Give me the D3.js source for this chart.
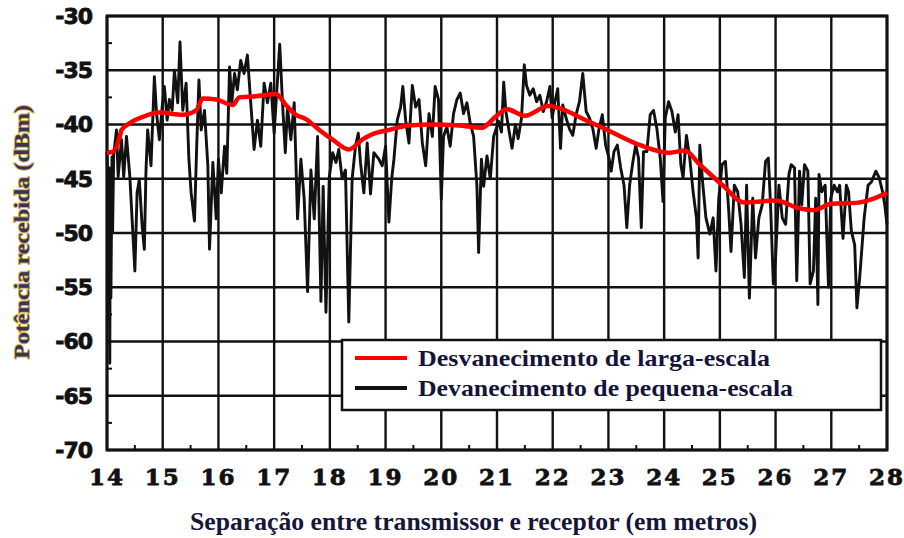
<!DOCTYPE html>
<html>
<head>
<meta charset="utf-8">
<script src="https://d3js.org/d3.v7.min.js"></script>
<style>
	body { margin: 0; background: #ffffff; }
	svg { display: block; }
</style>
</head>
<body>
<script>

// tick values for the axes
var xTicks = [14, 15, 16, 17, 18, 19, 20, 21, 22, 23, 24, 25, 26, 27, 28];
var yTicks = [-30, -35, -40, -45, -50, -55, -60, -65, -70];

// legend names
var seriesNames = ["Desvanecimento de larga-escala", "Devanecimento de pequena-escala"];

// large-scale fading (red), [metros, dBm]
var largaEscala = [
	[14.0, -42.6], [14.11, -42.5], [14.23, -41.1], [14.26, -40.5], [14.4, -39.9], [14.64, -39.3],
	[14.94, -38.9], [15.36, -39.1], [15.6, -38.7], [15.72, -37.6], [15.96, -37.7], [16.26, -38.2],
	[16.37, -37.5], [16.67, -37.4], [17.03, -37.2], [17.21, -38.2], [17.39, -39.1], [17.57, -39.5],
	[17.81, -40.5], [18.05, -41.4], [18.34, -42.3], [18.58, -41.4], [18.76, -40.9], [19.06, -40.5],
	[19.42, -40.1], [19.84, -40.0], [20.31, -40.1], [20.73, -40.3], [20.97, -39.3], [21.18, -38.6],
	[21.5, -39.2], [21.92, -38.3], [22.27, -38.8], [22.51, -39.4], [22.98, -40.5], [23.57, -41.9],
	[24.1, -42.6], [24.37, -42.4], [24.64, -43.7], [25.05, -45.6], [25.44, -47.2], [26.0, -47.0],
	[26.41, -47.7], [26.68, -47.9], [27.0, -47.3], [27.48, -47.2], [27.72, -46.9], [28.0, -46.3]
];

// small-scale fading (black), [metros, dBm]
var pequenaEscala = [
	[14.0, -42.5], [14.02, -47], [14.03, -58], [14.04, -44], [14.05, -62], [14.06, -45], [14.07, -56],
	[14.09, -43], [14.1, -50], [14.12, -42.8], [14.17, -40.5], [14.2, -44.8], [14.26, -41.4], [14.3, -44.8],
	[14.35, -41.1], [14.41, -44.8], [14.5, -53.5], [14.54, -46.3], [14.58, -45.1], [14.63, -49.3],
	[14.67, -51.5], [14.7, -44.2], [14.73, -40.5], [14.79, -43.8], [14.85, -35.6], [14.89, -39],
	[14.94, -41.4], [14.99, -38.4], [15.03, -36.5], [15.08, -39.6], [15.12, -37.7], [15.17, -38.7],
	[15.21, -35], [15.27, -38], [15.31, -32.4], [15.36, -38.7], [15.42, -36.2], [15.47, -43.2],
	[15.51, -46.3], [15.57, -48.9], [15.61, -42], [15.65, -35.9], [15.69, -40.5], [15.75, -38.7],
	[15.81, -43.8], [15.84, -51.5], [15.9, -43.5], [15.96, -48.7], [16.0, -43.2], [16.05, -46.3],
	[16.11, -42], [16.15, -44.5], [16.2, -34.7], [16.24, -38], [16.29, -35.3], [16.34, -36.8],
	[16.4, -34.1], [16.46, -35.3], [16.52, -33.6], [16.58, -38], [16.64, -42.3], [16.7, -39.6],
	[16.76, -42], [16.82, -36.2], [16.88, -38], [16.94, -36.2], [17.0, -40.8], [17.06, -35.9],
	[17.1, -32.6], [17.15, -38], [17.2, -42.6], [17.24, -38.4], [17.3, -41.4], [17.36, -38],
	[17.42, -48.7], [17.48, -43.2], [17.54, -46.9], [17.6, -55.4], [17.66, -44.2], [17.72, -48.7],
	[17.78, -41.1], [17.84, -56.3], [17.88, -45.7], [17.93, -57.3], [17.99, -44.8], [18.05, -42.6],
	[18.11, -43.5], [18.16, -42.3], [18.22, -45], [18.28, -44.2], [18.34, -58.2], [18.4, -45],
	[18.46, -42], [18.51, -40.8], [18.55, -43.5], [18.61, -46.3], [18.67, -41.7], [18.73, -46.4],
	[18.79, -42.6], [18.88, -43.2], [18.94, -43.8], [19.0, -42], [19.06, -49], [19.11, -45],
	[19.15, -43.2], [19.21, -39.6], [19.27, -38.4], [19.31, -36.5], [19.36, -39.6], [19.42, -41.7],
	[19.48, -36.4], [19.54, -38.4], [19.6, -37.7], [19.66, -41.7], [19.72, -43.8], [19.78, -39],
	[19.84, -41.1], [19.89, -36.5], [19.95, -37.7], [20.0, -46.9], [20.04, -41.1], [20.1, -40.2],
	[20.16, -42], [20.22, -39], [20.28, -37.7], [20.34, -37.1], [20.4, -39], [20.46, -38],
	[20.52, -39.9], [20.58, -41.1], [20.64, -45.7], [20.67, -51.8], [20.72, -43.2], [20.76, -45.7],
	[20.82, -42.9], [20.88, -45], [20.94, -41.1], [21.03, -39.7], [21.08, -40.7], [21.12, -36.1],
	[21.16, -38.8], [21.21, -40.4], [21.27, -42.2], [21.33, -40], [21.38, -41.3], [21.44, -39.4],
	[21.49, -34.5], [21.53, -36.4], [21.59, -37.3], [21.65, -36.7], [21.71, -37.9], [21.77, -37.3],
	[21.83, -38.8], [21.89, -37.9], [21.95, -36.5], [21.99, -39.4], [22.04, -37.9], [22.09, -36.7],
	[22.14, -42.2], [22.18, -38.2], [22.24, -39.4], [22.3, -40.4], [22.36, -41], [22.42, -39.1],
	[22.48, -37.9], [22.54, -35.3], [22.6, -38.8], [22.66, -39.4], [22.72, -40.4], [22.78, -42.2],
	[22.83, -40.4], [22.89, -39.1], [22.95, -41.9], [23.01, -43.1], [23.05, -44.3], [23.1, -42.5],
	[23.16, -41.9], [23.22, -44], [23.28, -45.6], [23.33, -49.5], [23.38, -45.6], [23.44, -43.4],
	[23.49, -41.9], [23.54, -43.1], [23.59, -49.5], [23.63, -42.5], [23.69, -42.5], [23.75, -39.1],
	[23.81, -38.7], [23.87, -40.4], [23.93, -43.1], [23.98, -47.1], [24.02, -39.4], [24.08, -37.9],
	[24.14, -38.8], [24.2, -40.7], [24.25, -39.1], [24.3, -43.7], [24.34, -44.9], [24.4, -41],
	[24.46, -43.1], [24.52, -46.2], [24.58, -48.6], [24.61, -52.3], [24.64, -41.9], [24.69, -45.3],
	[24.75, -48.6], [24.82, -50.1], [24.88, -48.6], [24.93, -53.5], [24.98, -46.8], [25.04, -43.7],
	[25.1, -43.4], [25.16, -48], [25.2, -51.7], [25.26, -45.6], [25.32, -46.2], [25.38, -49.2],
	[25.44, -54.1], [25.48, -45.6], [25.53, -56], [25.59, -46.8], [25.64, -52.3], [25.7, -48.6],
	[25.76, -47.4], [25.82, -43.4], [25.87, -43.1], [25.91, -47.4], [25.96, -54.7], [26.0, -52.3],
	[26.06, -45.6], [26.12, -48.6], [26.18, -49.2], [26.24, -44.6], [26.28, -43.7], [26.34, -44],
	[26.38, -54.4], [26.43, -44.3], [26.47, -47.4], [26.52, -43.7], [26.58, -44.3], [26.62, -54.7],
	[26.68, -53.5], [26.72, -46.8], [26.76, -56.6], [26.78, -44.6], [26.83, -46.2], [26.89, -45.6],
	[26.95, -55], [26.99, -46.8], [27.05, -45.6], [27.11, -46.2], [27.15, -45.6], [27.21, -50.5],
	[27.27, -45.6], [27.31, -46.2], [27.36, -49.8], [27.42, -51.1], [27.46, -56.9], [27.51, -54.1],
	[27.59, -48.6], [27.66, -45.6], [27.72, -45.3], [27.8, -44.3], [27.86, -44.9], [27.92, -46.2],
	[27.96, -47.4], [28.0, -49.2]
];

// size of the svg and of the plot box
var w = 904;
var h = 538;
var plotLeft = 107;
var plotRight = 887;
var plotTop = 16;
var plotBottom = 450;

var svg = d3.select("body")
			.append("svg")
			.attr("width", w)
			.attr("height", h);

// scales
var scaleX = d3.scaleLinear()
				.domain([14, 28])
				.range([plotLeft, plotRight]);
var scaleY = d3.scaleLinear()
				.domain([-70, -30])
				.range([plotBottom, plotTop]);

// grid lines
svg.append("g")
	.selectAll("line")
	.data(xTicks)
	.enter()
	.append("line")
	.attr("x1", function(d){ return scaleX(d); })
	.attr("x2", function(d){ return scaleX(d); })
	.attr("y1", plotTop)
	.attr("y2", plotBottom)
	.attr("stroke", "#111")
	.attr("stroke-width", 2.4);
svg.append("g")
	.selectAll("line")
	.data(yTicks)
	.enter()
	.append("line")
	.attr("x1", plotLeft)
	.attr("x2", plotRight)
	.attr("y1", function(d){ return scaleY(d); })
	.attr("y2", function(d){ return scaleY(d); })
	.attr("stroke", "#111")
	.attr("stroke-width", 2.4);

// small inner ticks halfway between grid lines
svg.append("g")
	.selectAll("line")
	.data(d3.range(14.5, 28, 1))
	.enter()
	.append("line")
	.attr("x1", function(d){ return scaleX(d); })
	.attr("x2", function(d){ return scaleX(d); })
	.attr("y1", plotBottom)
	.attr("y2", plotBottom - 5)
	.attr("stroke", "#111")
	.attr("stroke-width", 2);
svg.append("g")
	.selectAll("line")
	.data(d3.range(-67.5, -30, 5))
	.enter()
	.append("line")
	.attr("x1", plotLeft)
	.attr("x2", plotLeft + 5)
	.attr("y1", function(d){ return scaleY(d); })
	.attr("y2", function(d){ return scaleY(d); })
	.attr("stroke", "#111")
	.attr("stroke-width", 2);

// plot border
svg.append("rect")
	.attr("x", plotLeft)
	.attr("y", plotTop)
	.attr("width", plotRight - plotLeft)
	.attr("height", plotBottom - plotTop)
	.attr("fill", "none")
	.attr("stroke", "#111")
	.attr("stroke-width", 3);

// line generator
var line = d3.line()
			.x(function(d){ return scaleX(d[0]); })
			.y(function(d){ return scaleY(d[1]); });

// small-scale fading
svg.append("path")
	.datum(pequenaEscala)
	.attr("d", line)
	.attr("fill", "none")
	.attr("stroke", "#111")
	.attr("stroke-width", 2.9)
	.attr("stroke-linejoin", "round");

// large-scale fading
svg.append("path")
	.datum(largaEscala)
	.attr("d", line.curve(d3.curveMonotoneX))
	.attr("fill", "none")
	.attr("stroke", "#ff0000")
	.attr("stroke-width", 4.5)
	.attr("stroke-linejoin", "round");

// y tick labels
svg.append("g")
	.selectAll("text")
	.data(yTicks)
	.enter()
	.append("text")
	.attr("x", 92)
	.attr("y", function(d){ return scaleY(d); })
	.attr("dy", "0.36em")
	.attr("text-anchor", "end")
	.style("font-family", "'DejaVu Sans', sans-serif")
	.style("font-weight", "bold")
	.style("font-size", "22px")
	.style("letter-spacing", "-1px")
	.style("paint-order", "stroke")
	.attr("stroke", "#111")
	.attr("stroke-width", 0.8)
	.attr("fill", "#111")
	.text(function(d){ return d; });

// x tick labels
svg.append("g")
	.selectAll("text")
	.data(xTicks)
	.enter()
	.append("text")
	.attr("x", function(d){ return scaleX(d); })
	.attr("y", 477)
	.attr("dy", "0.36em")
	.attr("text-anchor", "middle")
	.style("font-family", "'DejaVu Serif', serif")
	.style("font-weight", "bold")
	.style("font-size", "23px")
	.style("letter-spacing", "2px")
	.attr("stroke", "#111")
	.attr("stroke-width", 0.8)
	.attr("fill", "#111")
	.text(function(d){ return d; });

// x axis title
svg.append("text")
	.attr("x", 190)
	.attr("y", 530)
	.attr("textLength", 567)
	.attr("lengthAdjust", "spacingAndGlyphs")
	.style("font-family", "'Liberation Serif', serif")
	.style("font-weight", "bold")
	.style("font-size", "25px")
	.attr("fill", "#16163a")
	.text("Separação entre transmissor e receptor (em metros)");

// y axis title
svg.append("text")
	.attr("transform", "translate(29, 232) rotate(-90)")
	.attr("text-anchor", "middle")
	.attr("textLength", 254)
	.attr("lengthAdjust", "spacingAndGlyphs")
	.style("font-family", "'Liberation Serif', serif")
	.style("font-weight", "bold")
	.style("font-size", "21px")
	.style("paint-order", "stroke")
	.attr("stroke", "#d4b45a")
	.attr("stroke-width", 1.8)
	.attr("fill", "#3a3452")
	.text("Potência recebida (dBm)");

// legend box
var legend = svg.append("g");
legend.append("rect")
	.attr("x", 342)
	.attr("y", 340)
	.attr("width", 539)
	.attr("height", 70)
	.attr("fill", "#ffffff")
	.attr("stroke", "#111")
	.attr("stroke-width", 2.5);

var legendColors = ["#ff0000", "#111"];
var legendWidths = [352, 375];
legend.selectAll(".entry")
	.data(seriesNames)
	.enter()
	.append("line")
	.attr("x1", 355)
	.attr("x2", 407)
	.attr("y1", function(d, i){ return 358 + i * 30; })
	.attr("y2", function(d, i){ return 358 + i * 30; })
	.attr("stroke", function(d, i){ return legendColors[i]; })
	.attr("stroke-width", 4);
legend.selectAll("text")
	.data(seriesNames)
	.enter()
	.append("text")
	.attr("x", 418)
	.attr("y", function(d, i){ return 366 + i * 30; })
	.attr("textLength", function(d, i){ return legendWidths[i]; })
	.attr("lengthAdjust", "spacingAndGlyphs")
	.style("font-family", "'Liberation Serif', serif")
	.style("font-weight", "bold")
	.style("font-size", "23px")
	.attr("fill", "#14143a")
	.text(function(d){ return d; });

</script>
</body>
</html>
